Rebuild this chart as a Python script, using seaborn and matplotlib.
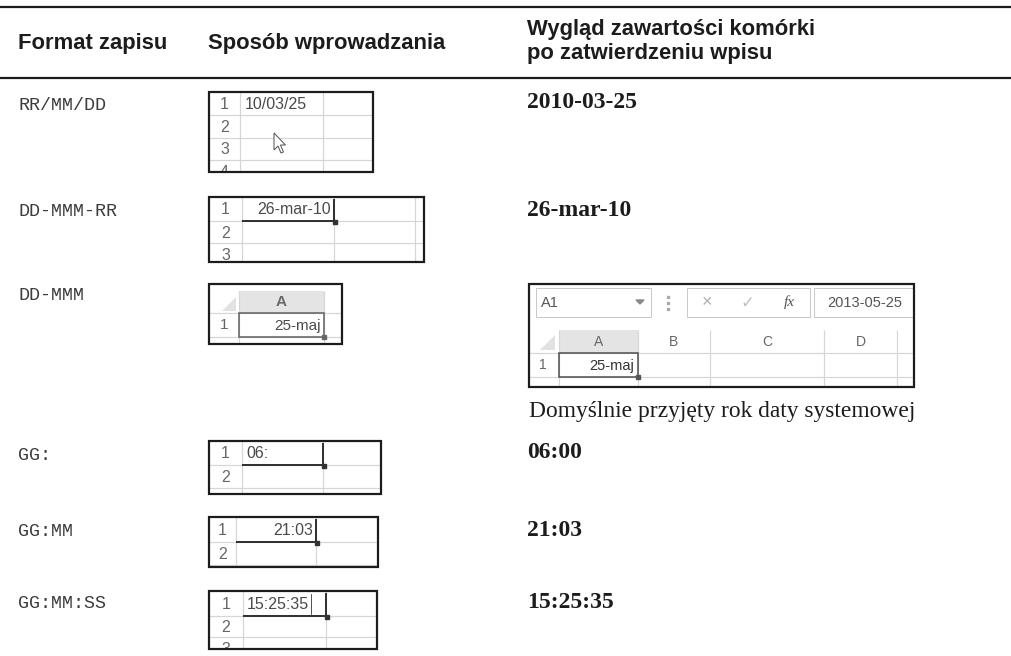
import matplotlib
matplotlib.use("Agg")
import matplotlib.pyplot as plt
import seaborn as sns
from matplotlib import patches
from matplotlib.transforms import Bbox

# table content
headers = ["Format zapisu", "Sposób wprowadzania",
           "Wygląd zawartości komórki\npo zatwierdzeniu wpisu"]
formats = ["RR/MM/DD", "DD-MMM-RR", "DD-MMM", "GG:", "GG:MM", "GG:MM:SS"]
typed = ["10/03/25", "26-mar-10", "25-maj", "06:", "21:03", "15:25:35"]
shown = ["2010-03-25", "26-mar-10", "", "06:00", "21:03", "15:25:35"]
note = "Domyślnie przyjęty rok daty systemowej"
name_box = "A1"
formula_value = "2013-05-25"
col_letters = ["A", "B", "C", "D"]

# layout in pixels (figure is 1011 x 656)
W, H = 1011, 656
row_y = [105, 212, 295, 455, 531, 604]
result_y = [103, 210, None, 453, 530, 603]
sheets = [
    dict(box=(209, 92, 373, 172), hdr=240, cols=[323], rows=[115, 138, 160], tx=245, ha="left", caret=None),
    dict(box=(209, 197, 424, 262), hdr=242, cols=[334, 415], rows=[221, 243], tx=331, ha="right", caret=334),
    None,
    dict(box=(209, 441, 381, 494), hdr=242, cols=[323], rows=[465, 488], tx=246, ha="left", caret=323),
    dict(box=(209, 517, 378, 567), hdr=236, cols=[316], rows=[542, 565], tx=313, ha="right", caret=316),
    dict(box=(209, 591, 377, 649), hdr=243, cols=[326], rows=[616, 637], tx=247, ha="left", caret=326),
]

PX = 0.72  # points per pixel at dpi 100
INK = "#1c1c1c"
GRID = "#d6d6d6"
XL_TEXT = "#4a4a4a"

sns.set_theme(style="white")
plt.rcParams["font.family"] = ["Liberation Sans", "DejaVu Sans"]


def clip_box(x0, y0, x1, y1):
    # display coordinates: axes fill the figure, y axis is flipped
    return Bbox.from_extents(x0, H - y1, x1, H - y0)


def frame(ax, x0, y0, x1, y1):
    rect = patches.Rectangle((x0, y0), x1 - x0, y1 - y0, fill=False,
                             ec=INK, lw=2.2 * PX, zorder=6)
    ax.add_patch(rect)
    return rect


def mini_sheet(ax, s, value):
    x0, y0, x1, y1 = s["box"]
    frame(ax, x0, y0, x1, y1)
    ax.vlines([s["hdr"]] + s["cols"], y0, y1, color=GRID, lw=1.2 * PX, zorder=2)
    ax.hlines(s["rows"], x0, x1, color=GRID, lw=1.2 * PX, zorder=2)
    edges = [y0] + s["rows"] + [s["rows"][-1] + 23]
    for i in range(len(edges) - 1):
        t = ax.text((x0 + s["hdr"]) / 2, (edges[i] + edges[i + 1]) / 2 + 1, str(i + 1),
                    ha="center", va="center", fontsize=11.5, color="#666666", zorder=3)
        t.set_clip_box(clip_box(x0, y0, x1, y1 - 1))
        t.set_clip_on(True)
    ax.text(s["tx"], (y0 + s["rows"][0]) / 2 + 1, value, ha=s["ha"], va="center",
            fontsize=11.5, color=XL_TEXT, zorder=4)
    c = s["caret"]
    if c is not None:
        r = s["rows"][0]
        ax.plot([s["hdr"], c], [r, r], color="#333333", lw=2 * PX, solid_capstyle="butt", zorder=4)
        ax.plot([c, c], [y0 + 2, r], color="#333333", lw=2 * PX, solid_capstyle="butt", zorder=4)
        ax.add_patch(patches.Rectangle((c - 1.5, r - 1.5), 4, 4, color="#333333", zorder=5))


def triangle_corner(ax, x0, y0, x1, y1):
    ax.add_patch(patches.Polygon([(x1, y0), (x1, y1), (x0, y1)], closed=True,
                                 color="#e2e2e2", lw=0, zorder=2))


fig = plt.figure(figsize=(W / 100, H / 100), dpi=100)
ax = fig.add_axes([0, 0, 1, 1])
ax.set_xlim(0, W)
ax.set_ylim(H, 0)
ax.axis("off")

# rules
ax.hlines([7, 78], 0, W, color=INK, lw=2.2 * PX)

# header
ax.text(18, 43, headers[0], fontsize=15.8, fontweight="bold", va="center", color=INK)
ax.text(208, 43, headers[1], fontsize=15.8, fontweight="bold", va="center", color=INK)
for k, line in enumerate(headers[2].split("\n")):
    ax.text(527, 29 + 25 * k, line, fontsize=15.8, fontweight="bold", va="center", color=INK)

# first column: format codes
for y, code in zip(row_y, formats):
    ax.text(18, y, code, fontsize=13.2, family="Liberation Mono", va="center", color="#3c3c3c")

# second column: typed entries
for i, s in enumerate(sheets):
    if s is not None:
        mini_sheet(ax, s, typed[i])

# mouse pointer in first sheet
tx, ty = 274, 133
arrow = [(0, 0), (0, 17), (4, 13), (7, 20), (9.5, 19), (6.5, 12), (11.5, 12)]
ax.add_patch(patches.Polygon([(tx + a, ty + b) for a, b in arrow], closed=True,
                             fc="white", ec="#555555", lw=1 * PX, zorder=5))

# text cursor in last sheet
ax.plot([311, 311], [594, 614], color="#555555", lw=1 * PX, zorder=4)

# sheet with column header (DD-MMM)
bx0, by0, bx1, by1 = 209, 284, 342, 344
frame(ax, bx0, by0, bx1, by1)
ax.add_patch(patches.Rectangle((239, 291), 85, 22, color="#e4e4e4", lw=0, zorder=1))
triangle_corner(ax, 222, 297, 236, 311)
ax.vlines([239, 324], 291, by1, color=GRID, lw=1.2 * PX, zorder=2)
ax.hlines([313, 337], bx0, bx1, color=GRID, lw=1.2 * PX, zorder=2)
ax.text(281, 302, col_letters[0], ha="center", va="center", fontsize=11, color="#6a6a6a", fontweight="bold")
ax.text(224, 325, "1", ha="center", va="center", fontsize=11, color="#666666")
t = ax.text(224, 349, "2", ha="center", va="center", fontsize=11, color="#666666")
t.set_clip_box(clip_box(bx0, by0, bx1, by1 - 1))
t.set_clip_on(True)
ax.add_patch(patches.Rectangle((239, 313), 85, 24, fill=False, ec="#666666", lw=1.6 * PX, zorder=4))
ax.add_patch(patches.Rectangle((322, 335), 4, 4, color="#666666", zorder=5))
ax.text(321, 326, typed[2], ha="right", va="center", fontsize=11, color=XL_TEXT, zorder=4)

# third column: results
for y, val in zip(result_y, shown):
    if y is not None and val:
        ax.text(527, y, val, fontsize=17, fontweight="bold", family="Liberation Serif",
                va="center", color=INK)

# Excel screenshot with formula bar
sx0, sy0, sx1, sy1 = 529, 284, 914, 387
frame(ax, sx0, sy0, sx1, sy1)
fb = "#c9c9c9"
ax.add_patch(patches.Rectangle((536, 288), 115, 29, fill=False, ec=fb, lw=1 * PX, zorder=2))
ax.text(541, 303, name_box, va="center", fontsize=10.5, color="#555555")
ax.add_patch(patches.Polygon([(636, 300), (644, 300), (640, 304)], closed=True, color="#888888", zorder=3))
for dy in (-6, 0, 6):
    ax.add_patch(patches.Rectangle((667, 302 + dy), 1.5, 1.5, color="#aaaaaa", zorder=3))
ax.add_patch(patches.Rectangle((687, 288), 123, 29, fill=False, ec=fb, lw=1 * PX, zorder=2))
ax.text(707, 303, "×", ha="center", va="center", fontsize=13, color="#b0b0b0")
ax.text(747, 303, "✓", ha="center", va="center", fontsize=12, color="#c0c0c0", family="DejaVu Sans")
ax.text(789, 302, "fx", ha="center", va="center", fontsize=11, style="italic",
        family="Liberation Serif", color="#555555")
ax.plot([814, 914], [288, 288], color=fb, lw=1 * PX, zorder=2)
ax.plot([814, 914], [317, 317], color=fb, lw=1 * PX, zorder=2)
ax.plot([814, 814], [288, 317], color=fb, lw=1 * PX, zorder=2)
ax.text(827, 303, formula_value, va="center", fontsize=10.5, color="#555555")

ax.add_patch(patches.Rectangle((559, 330), 79, 23, color="#e4e4e4", lw=0, zorder=1))
triangle_corner(ax, 540, 335, 555, 350)
col_x = [559, 638, 710, 824, 897]
ax.vlines(col_x, 330, sy1, color=GRID, lw=1.2 * PX, zorder=2)
ax.hlines([353, 377], sx0, sx1, color=GRID, lw=1.2 * PX, zorder=2)
for k, letter in enumerate(col_letters):
    ax.text((col_x[k] + col_x[k + 1]) / 2, 342, letter, ha="center", va="center",
            fontsize=10, color="#666666")
ax.text(543, 365, "1", ha="center", va="center", fontsize=10, color="#666666")
ax.add_patch(patches.Rectangle((559, 353), 79, 24, fill=False, ec="#555555", lw=1.6 * PX, zorder=4))
ax.add_patch(patches.Rectangle((636, 375), 4, 4, color="#555555", zorder=5))
ax.text(634, 366, typed[2], ha="right", va="center", fontsize=10.5, color="#333333", zorder=4)

ax.text(529, 412, note, fontsize=16.9, family="Liberation Serif", va="center", color=INK)

fig.savefig("out.png", dpi=100)
